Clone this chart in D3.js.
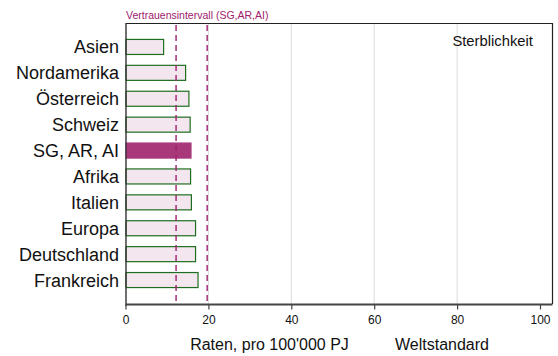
<!DOCTYPE html>
<html><head><meta charset="utf-8">
<script src="https://cdn.jsdelivr.net/npm/d3@7"></script>
<style>body{margin:0;background:#fff;}svg{display:block;font-family:"Liberation Sans",Arial,sans-serif;}</style>
</head><body>
<svg id="c" width="558" height="356"></svg>
<script>
const categories = ["Asien","Nordamerika","Österreich","Schweiz","SG, AR, AI","Afrika","Italien","Europa","Deutschland","Frankreich"];
const values = [9.2,14.5,15.3,15.6,15.8,15.7,15.9,16.9,16.9,17.5];
const highlight = "SG, AR, AI";
const ciBounds = [12.2,19.7];
const xTicks = [0,20,40,60,80,100];
const gridTicks = [20,40,60,80];

const FF = "'Liberation Sans',Arial,sans-serif";
const svg = d3.select("#c");
const xs = d3.scaleLinear().domain([0,103]).range([125.5, 125.5 + 103*4.145]);
const ys = d3.scaleBand().domain(categories).range([34, 293]).paddingInner(0.42).paddingOuter(0.21);

// grid
svg.append("g").selectAll("line").data(gridTicks).join("line")
  .attr("x1",d=>xs(d)).attr("x2",d=>xs(d)).attr("y1",23).attr("y2",304)
  .attr("stroke","#dcdcdc").attr("stroke-width",1);

// frame top & right
svg.append("path").attr("d",`M126,23.5H552.5V304`).attr("fill","none").attr("stroke","#222").attr("stroke-width",1.2);

// bars
svg.append("g").selectAll("rect").data(categories).join("rect")
  .attr("x",xs(0)+0.5).attr("y",d=>ys(d))
  .attr("width",(d,i)=>xs(values[i])-xs(0)-0.5).attr("height",ys.bandwidth())
  .attr("fill",d=>d===highlight?"#a8387a":"#f3e6ef")
  .attr("stroke",d=>d===highlight?"#a8387a":"#1f6e1f").attr("stroke-width",1.2);

// CI dashed lines
svg.append("g").selectAll("line").data(ciBounds).join("line")
  .attr("x1",d=>xs(d)).attr("x2",d=>xs(d)).attr("y1",25).attr("y2",304)
  .attr("stroke","#a0206e").attr("stroke-width",1.4).attr("stroke-dasharray","6,4");

// left axis line
svg.append("line").attr("x1",126).attr("x2",126).attr("y1",23).attr("y2",306).attr("stroke","#333").attr("stroke-width",1.4);

// x axis
const ax = svg.append("g").attr("transform","translate(0,304.5)")
  .call(d3.axisBottom(xs).tickValues(xTicks).tickSize(5).tickSizeOuter(0));
ax.select(".domain").attr("d",`M126,0H552.5`).attr("stroke","#444").attr("stroke-width",2);
ax.selectAll(".tick line").attr("stroke","#444").attr("stroke-width",1.2);
ax.selectAll(".tick text").attr("font-size",12).attr("fill","#111").attr("y",9).attr("dy","0.9em").attr("font-family",FF);

// category labels
svg.append("g").selectAll("text").data(categories).join("text")
  .attr("x",119).attr("y",d=>ys(d)+ys.bandwidth()/2).attr("dy","0.36em")
  .attr("text-anchor","end").attr("font-size",18).attr("fill","#111").text(d=>d);

// texts
svg.append("text").attr("x",126).attr("y",18.5).attr("font-size",10.5).attr("fill","#a0206e").text("Vertrauensintervall (SG,AR,AI)");
svg.append("text").attr("x",533).attr("y",46).attr("text-anchor","end").attr("font-size",14.8).attr("fill","#111").text("Sterblichkeit");
svg.append("text").attr("x",269.5).attr("y",350).attr("text-anchor","middle").attr("font-size",16).attr("fill","#111").text("Raten, pro 100'000 PJ");
svg.append("text").attr("x",442).attr("y",350).attr("text-anchor","middle").attr("font-size",16).attr("fill","#111").text("Weltstandard");
</script>
</body></html>
